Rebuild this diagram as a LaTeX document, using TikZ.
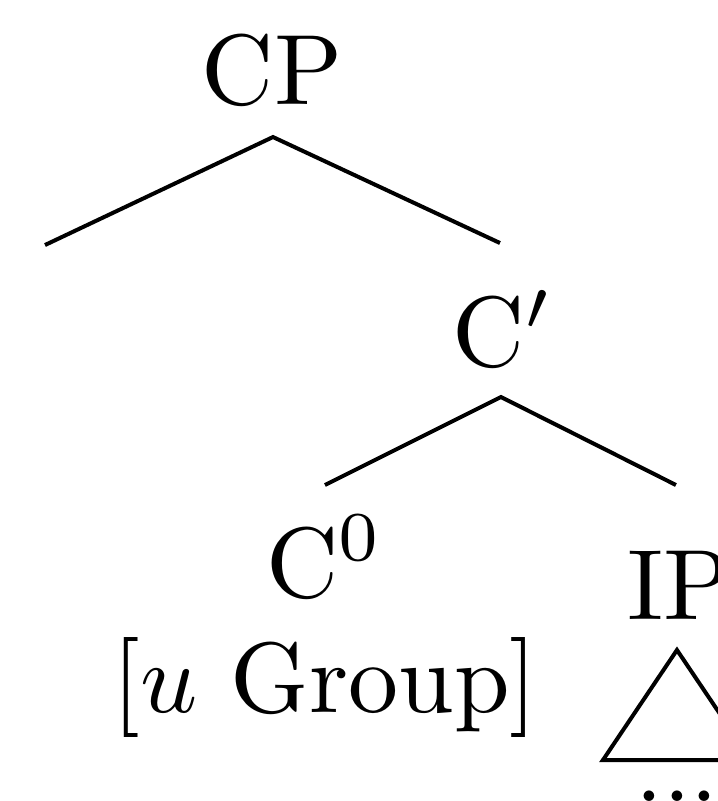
\documentclass[tikz,border=0pt]{standalone}
\begin{document}
\begin{tikzpicture}[x=0.1pt, y=-0.1pt, lbl/.style={anchor=base, inner sep=0pt}]
  \clip (0,0) rectangle (718,801);
  % labels
  \node[lbl] (cp) at (272,104) {CP};
  \node[lbl] (cbar) at (503,366) {C$'$};
  \node[lbl] (c0) at (325,597) {C$^0$};
  \node[lbl] (feat) at (325,712) {[$u$ Group]};
  \node[lbl] (ip) at (680,619) {IP};
  \node[lbl] (dots) at (677,801) {...};
  % branch points
  \coordinate (cp-root) at (273,137);
  \coordinate (spec-top) at (45,245);
  \coordinate (cbar-top) at (500,243);
  \coordinate (cbar-root) at (501,397);
  \coordinate (c0-top) at (325,485);
  \coordinate (ip-top) at (676,485);
  \draw (spec-top) -- (cp-root) -- (cbar-top);
  \draw (c0-top) -- (cbar-root) -- (ip-top);
  % triangle under IP
  \draw (677,650) -- (603,760) -- (751,760) -- cycle;
\end{tikzpicture}
\end{document}
